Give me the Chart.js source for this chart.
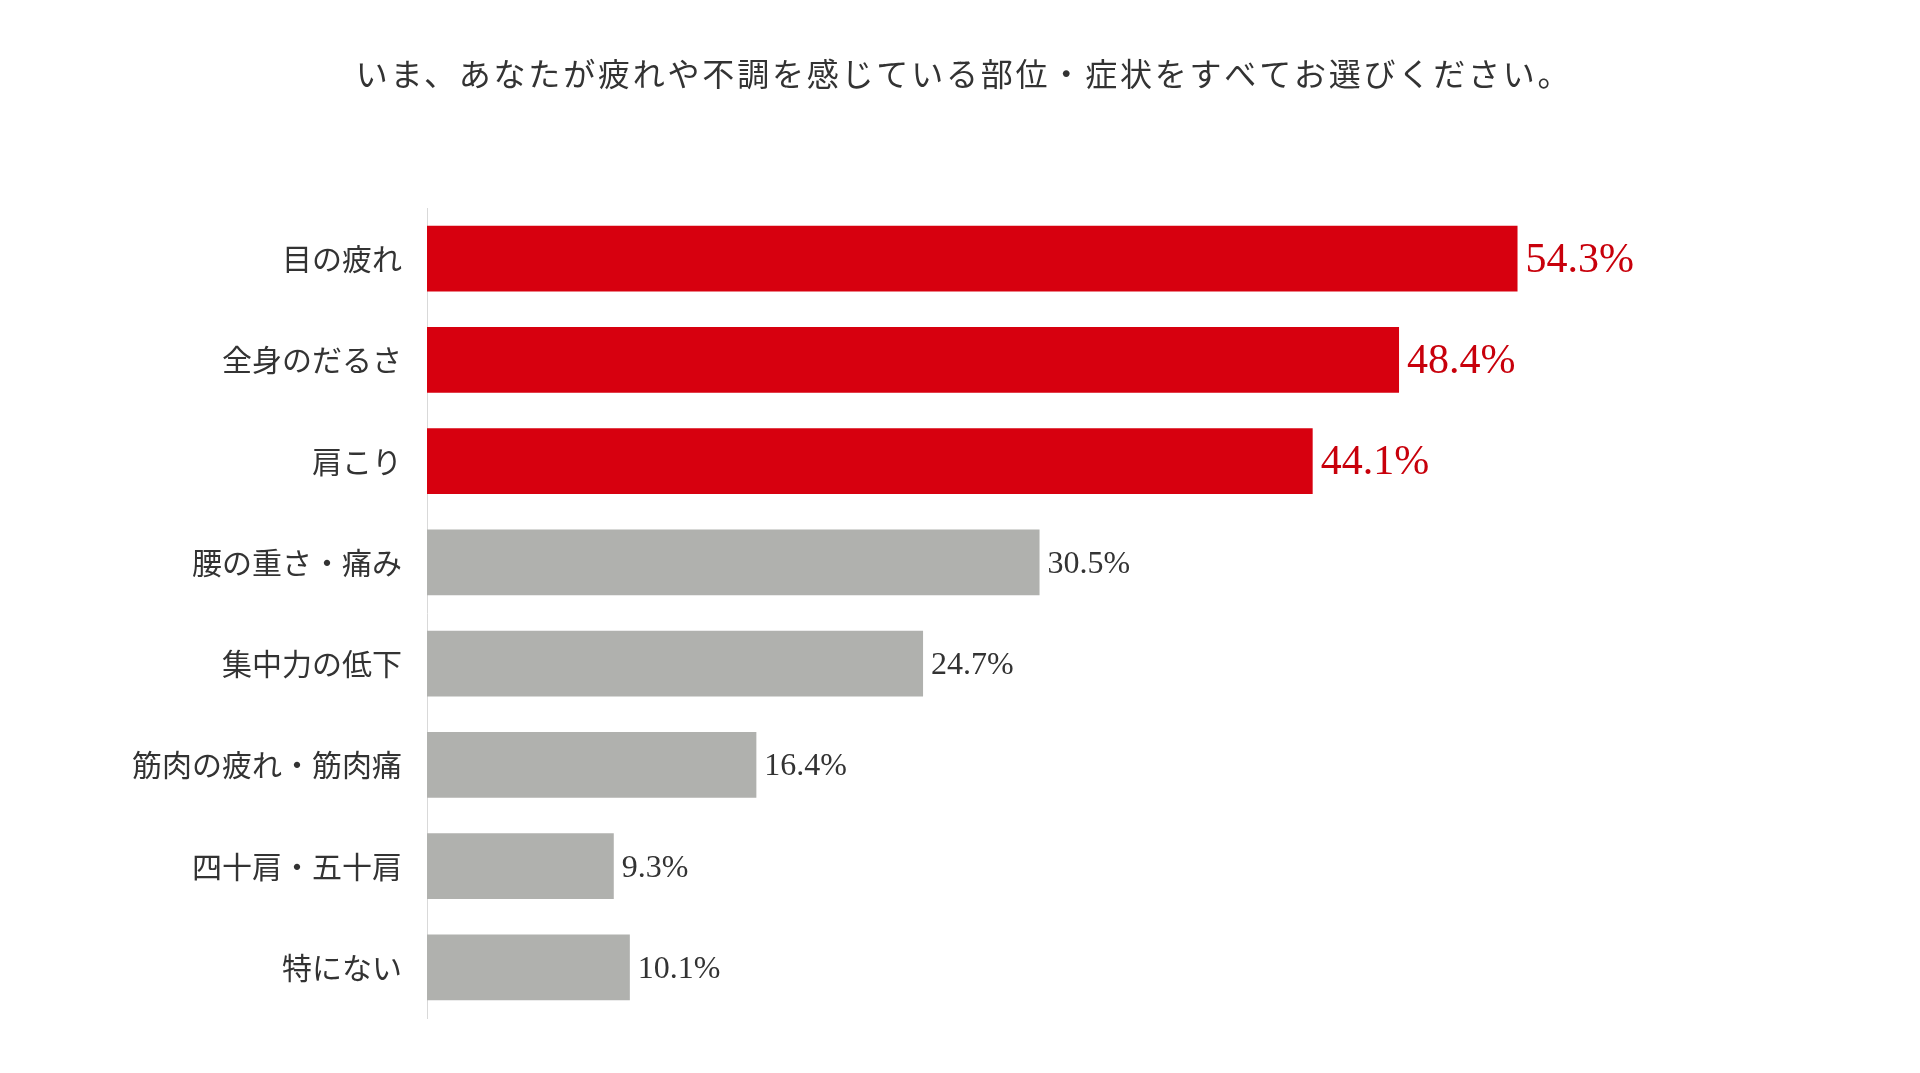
<!DOCTYPE html>
<html lang="ja">
<head>
  <meta charset="UTF-8">
  <title>疲れや不調を感じている部位・症状</title>
  <script src="https://cdn.jsdelivr.net/npm/chart.js@4/dist/chart.umd.min.js"></script>
  <style>
    html, body { margin: 0; padding: 0; background: #fff; }
    #wrap { width: 1920px; height: 1073px; }
  </style>
</head>
<body>
<div id="wrap"><canvas id="myChart" width="1920" height="1073"></canvas></div>
<script>
    const title = 'いま、あなたが疲れや不調を感じている部位・症状をすべてお選びください。';
    const categories = ['目の疲れ', '全身のだるさ', '肩こり', '腰の重さ・痛み', '集中力の低下', '筋肉の疲れ・筋肉痛', '四十肩・五十肩', '特にない'];
    const values = [54.3, 48.4, 44.1, 30.5, 24.7, 16.4, 9.3, 10.1];
    const topCount = 3; // first three bars are highlighted in red

    const red = '#d7000f';
    const gray = '#b0b1ae';
    const barColors = categories.map((c, i) => i < topCount ? red : gray);

    // title drawn above the chart area
    const title_plugin = {
        id: 'title_plugin',
        afterDraw: (chart) => {
            const ctx = chart.ctx;
            ctx.save();
            ctx.font = '32px "Noto Sans CJK JP"';
            ctx.letterSpacing = '2.8px';
            ctx.fillStyle = '#333333';
            ctx.textAlign = 'center';
            ctx.textBaseline = 'middle';
            ctx.fillText(title, 964, 74);
            ctx.restore();
        }
    };

    // percentage labels at the end of each bar
    const value_labels = {
        id: 'value_labels',
        afterDatasetsDraw: (chart) => {
            const ctx = chart.ctx;
            const meta = chart.getDatasetMeta(0);
            meta.data.forEach((bar, i) => {
                const big = i < topCount;
                const text = values[i].toFixed(1) + '%';
                ctx.save();
                ctx.font = (big ? 42 : 32) + 'px "Liberation Serif"';
                ctx.fillStyle = big ? '#c8000b' : '#333333';
                ctx.textAlign = 'left';
                ctx.textBaseline = 'middle';
                ctx.fillText(text, bar.x + 8, bar.y + 2);
                ctx.restore();
            });
        }
    };

    Chart.register(title_plugin, value_labels);

    var ctx = document.getElementById('myChart');
    var myChart = new Chart(ctx, {
        type: 'bar',
        data: {
            labels: categories,
            datasets: [{
                data: values,
                backgroundColor: barColors,
                borderWidth: 0,
                barPercentage: 1,
                categoryPercentage: 0.65
            }]
        },
        options: {
            indexAxis: 'y',
            responsive: false,
            animation: false,
            devicePixelRatio: 1,
            layout: {
                padding: { top: 208, bottom: 55, left: 0, right: 288 }
            },
            plugins: {
                legend: { display: false },
                tooltip: { enabled: false }
            },
            scales: {
                x: {
                    display: false,
                    min: 0,
                    max: 60
                },
                y: {
                    afterFit: (scale) => { scale.width = 427; },
                    grid: { display: false, drawTicks: false },
                    border: { display: true, color: '#d9d9d9', width: 1 },
                    ticks: {
                        padding: 25,
                        color: '#333333',
                        font: { family: '"Noto Sans CJK JP"', size: 30 }
                    }
                }
            }
        }
    });
</script>
</body>
</html>
